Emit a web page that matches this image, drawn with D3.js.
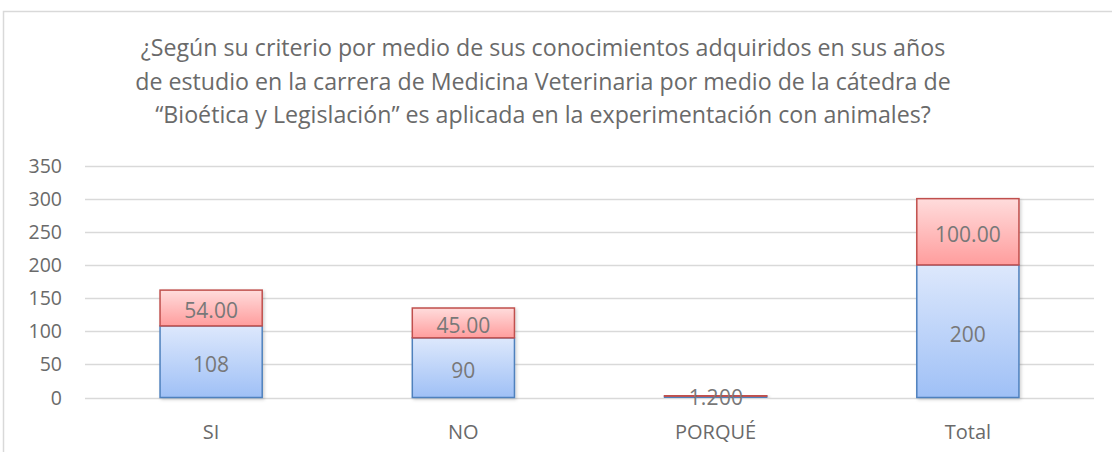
<!DOCTYPE html>
<html><head><meta charset="utf-8">
<script src="https://cdn.jsdelivr.net/npm/d3@7"></script>
<style>
html,body{margin:0;padding:0;background:#fff;}
svg{display:block;font-family:"Open Sans","Noto Sans",sans-serif;}
</style></head>
<body>
<svg id="c" width="1112" height="452"></svg>
<script>
const categories = ["SI", "NO", "PORQUÉ", "Total"];
const countValues = [108, 90, 2, 200];
const percentValues = [54.00, 45.00, 1.00, 100.00];
const yTicks = [0, 50, 100, 150, 200, 250, 300, 350];
const titleLines = [
  "¿Según su criterio por medio de sus conocimientos adquiridos en sus años",
  "de estudio en la carrera de Medicina Veterinaria por medio de la cátedra de",
  "“Bioética y Legislación” es aplicada en la experimentación con animales?"
];

const svg = d3.select("#c");
const defs = svg.append("defs");
const gb = defs.append("linearGradient").attr("id","gBlue").attr("x1",0).attr("y1",0).attr("x2",0).attr("y2",1);
gb.append("stop").attr("offset","0%").attr("stop-color","#dde8fc");
gb.append("stop").attr("offset","100%").attr("stop-color","#9fc0f6");
const gr = defs.append("linearGradient").attr("id","gRed").attr("x1",0).attr("y1",0).attr("x2",0).attr("y2",1);
gr.append("stop").attr("offset","0%").attr("stop-color","#ffdcdc");
gr.append("stop").attr("offset","100%").attr("stop-color","#ff9d9d");
const f = defs.append("filter").attr("id","sh").attr("x","-10%").attr("y","-10%").attr("width","130%").attr("height","130%");
f.append("feDropShadow").attr("dx",1.5).attr("dy",1.5).attr("stdDeviation",1.5).attr("flood-color","#000").attr("flood-opacity",0.18);

// frame
svg.append("rect").attr("x",3.5).attr("y",11.5).attr("width",1130).attr("height",470)
  .attr("fill","none").attr("stroke","#d9d9d9").attr("stroke-width",1.5);

// title
svg.append("g").selectAll("text").data(titleLines).join("text")
  .attr("x",543).attr("y",(d,i)=>56+i*33.7)
  .attr("text-anchor","middle").attr("fill","#6a6a6a")
  .attr("font-size",23.2).text(d=>d);

const left = 85, right = 1094;
const x = d3.scaleBand().domain(categories).range([left,right]).padding(0);
const y = d3.scaleLinear().domain([0,350]).range([397.5,165.5]);

// gridlines
svg.append("g").selectAll("line").data(yTicks).join("line")
  .attr("x1",left).attr("x2",right)
  .attr("y1",d=>Math.round(y(d))+0.5).attr("y2",d=>Math.round(y(d))+0.5)
  .attr("stroke","#d9d9d9").attr("stroke-width",1.3);

// y axis labels
const yAxis = d3.axisLeft(y).tickValues(yTicks).tickSize(0).tickPadding(0).tickFormat(d3.format("d"));
const ya = svg.append("g").attr("transform","translate(62,0)").call(yAxis);
ya.select(".domain").remove();
ya.selectAll("text").attr("font-size",19.5).attr("fill","#6a6a6a").attr("font-family","'Open Sans','Noto Sans',sans-serif").attr("dy","0.34em");

// x axis labels
const xAxis = d3.axisBottom(x).tickSize(0).tickPadding(0);
const xa = svg.append("g").attr("transform","translate(0,432)").call(xAxis);
xa.select(".domain").remove();
xa.selectAll("text").attr("font-size",20).attr("fill","#6a6a6a").attr("font-family","'Open Sans','Noto Sans',sans-serif").attr("dy","0.35em");

const bw = x.bandwidth()*0.405;
const cx = c => x(c)+x.bandwidth()/2;

const data = categories.map((c,i)=>({c, a:countValues[i], b:percentValues[i]}));
const bars = svg.append("g");
data.forEach(d=>{
  const g = bars.append("g").attr("filter","url(#sh)");
  g.append("rect").attr("x",cx(d.c)-bw/2).attr("width",bw)
    .attr("y",y(d.a)).attr("height",y(0)-y(d.a))
    .attr("fill","url(#gBlue)").attr("stroke","#4f81bd").attr("stroke-width",1.5);
  g.append("rect").attr("x",cx(d.c)-bw/2).attr("width",bw)
    .attr("y",y(d.a+d.b)).attr("height",y(d.a)-y(d.a+d.b))
    .attr("fill","url(#gRed)").attr("stroke","#c0504d").attr("stroke-width",1.5);
});

// labels
const lbl = svg.append("g").attr("fill","#787878").attr("font-size",21).attr("text-anchor","middle");
data.forEach(d=>{
  if (d.c === "PORQUÉ") {
    const yy = y(d.a/2)+1;
    const c0 = cx(d.c) - 3;
    const b = lbl.append("text").attr("x",c0).attr("y",yy).attr("dy","0.35em").text(d.a);
    const w2 = b.node().getComputedTextLength();
    const s = d3.format(".2f")(d.b);
    const t = lbl.append("text").attr("y",yy).attr("dy","0.35em");
    t.append("tspan").attr("x",c0 - w2/2 - 0.3).attr("text-anchor","end").text(s.slice(0,2));
    t.append("tspan").attr("x",c0 + w2/2 + 0.3).attr("text-anchor","start").text(s.slice(2));
  } else {
    lbl.append("text").attr("x",cx(d.c)).attr("y",y(d.a/2)+3).attr("dy","0.35em").text(d.a);
    lbl.append("text").attr("x",cx(d.c)).attr("y",y(d.a+d.b/2)+3).attr("dy","0.35em").text(d3.format(".2f")(d.b));
  }
});
</script>
</body></html>
